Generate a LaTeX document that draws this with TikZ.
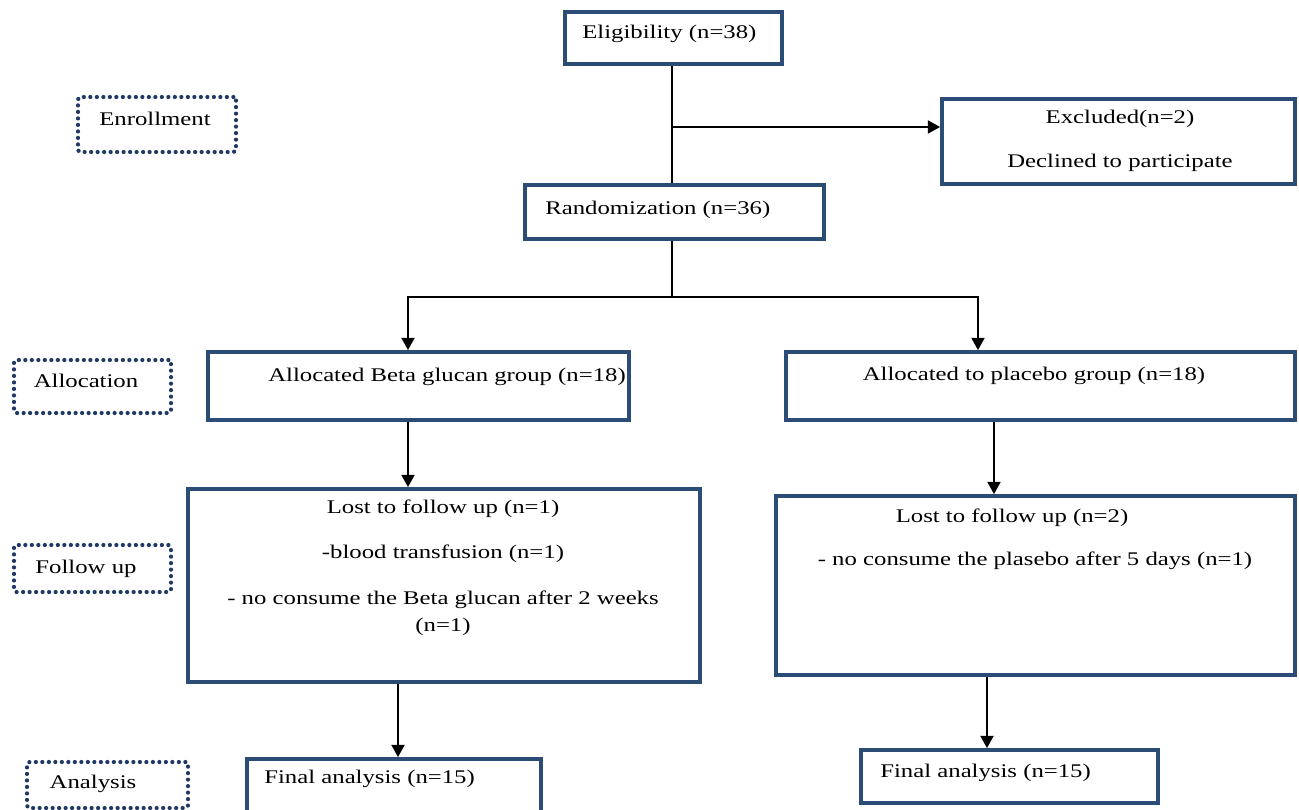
\documentclass[tikz,border=0pt]{standalone}
\usepackage{fontspec}
\setmainfont{Liberation Serif}[FakeStretch=1.28]
\usetikzlibrary{arrows.meta}
\definecolor{boxblue}{HTML}{2B4C74}
\definecolor{dotblue}{HTML}{1F3864}
\tikzset{
  box/.style={draw=boxblue, line width=2.2pt, fill=white, inner sep=0pt},
  stagebox/.style={draw=dotblue, line width=2.4pt, line cap=round, dash pattern=on 0pt off 3.7pt, rounded corners=1.5pt, inner sep=0pt},
  txt/.style={font=\fontsize{11pt}{13pt}\selectfont, inner sep=0pt, text=black},
  conn/.style={draw=black, line width=0.9pt},
  arr/.style={conn, -{Triangle[width=7.5pt,length=7pt]}},
}
\begin{document}
\begin{tikzpicture}[x=0.02cm, y=-0.02cm]
\clip (0,0) rectangle (1299,809);
\fill[white] (0,0) rectangle (1299,809);

% main boxes
\node[box, minimum width=217*0.02cm, minimum height=52*0.02cm] (elig) at (673.5,38) {};
\node[box, minimum width=353*0.02cm, minimum height=85*0.02cm] (excl) at (1118.5,141.5) {};
\node[box, minimum width=299*0.02cm, minimum height=54*0.02cm] (rand) at (674.5,212) {};
\node[box, minimum width=421*0.02cm, minimum height=68*0.02cm] (allocL) at (418.5,386) {};
\node[box, minimum width=509*0.02cm, minimum height=68*0.02cm] (allocR) at (1040.5,386) {};
\node[box, minimum width=512*0.02cm, minimum height=193*0.02cm] (fuL) at (444,585.5) {};
\node[box, minimum width=519*0.02cm, minimum height=179*0.02cm] (fuR) at (1035.5,585.5) {};
\node[box, minimum width=294*0.02cm, minimum height=53*0.02cm] (finL) at (394,785.5) {};
\node[box, minimum width=297*0.02cm, minimum height=53*0.02cm] (finR) at (1009.5,776.5) {};

% stage boxes
\node[stagebox, minimum width=158*0.02cm, minimum height=55*0.02cm] (enroll) at (157,124.5) {};
\node[stagebox, minimum width=157*0.02cm, minimum height=53*0.02cm] (alloc) at (92.5,386.5) {};
\node[stagebox, minimum width=157*0.02cm, minimum height=47*0.02cm] (follow) at (92.5,568.5) {};
\node[stagebox, minimum width=161*0.02cm, minimum height=46*0.02cm] (analysis) at (107.5,785) {};

% texts
\node[txt, anchor=west] (t-elig) at (582,34) {Eligibility (n=38)};
\node[txt] (t-enroll) at (155,119) {Enrollment};
\node[txt] (t-excl1) at (1120,119) {Excluded(n=2)};
\node[txt] (t-excl2) at (1120,163) {Declined to participate};
\node[txt, anchor=west] (t-rand) at (545,210) {Randomization (n=36)};
\node[txt] (t-alloc) at (86,381) {Allocation};
\node[txt] (t-allocL) at (447,377) {Allocated Beta glucan group (n=18)};
\node[txt] (t-allocR) at (1034,376) {Allocated to placebo group (n=18)};
\node[txt] (t-follow) at (86,569) {Follow up};
\node[txt] (t-fuL1) at (443,509) {Lost to follow up (n=1)};
\node[txt] (t-fuL2) at (443,554) {-blood transfusion (n=1)};
\node[txt] (t-fuL3) at (443,600) {- no consume the Beta glucan after 2 weeks};
\node[txt] (t-fuL4) at (443,627) {(n=1)};
\node[txt] (t-fuR1) at (1012,518) {Lost to follow up (n=2)};
\node[txt] (t-fuR2) at (1035,561) {- no consume the plasebo after 5 days (n=1)};
\node[txt] (t-analysis) at (93,784) {Analysis};
\node[txt, anchor=west] (t-finL) at (264,779) {Final analysis (n=15)};
\node[txt, anchor=west] (t-finR) at (880,773) {Final analysis (n=15)};

% connectors
\coordinate (spine) at (672,127);
\coordinate (split) at (672,297);
\coordinate (bl) at (408,297);
\coordinate (br) at (978,297);
\coordinate (xL1) at (408,0);
\coordinate (xR1) at (994,0);
\coordinate (xL2) at (398,0);
\coordinate (xR2) at (987,0);

\draw[conn] (elig.south -| spine) -- (rand.north -| spine);
\draw[arr] (spine) -- (spine -| excl.west);
\draw[conn] (rand.south -| split) -- (split);
\draw[arr] (split) -- (bl) -- (bl |- allocL.north);
\draw[arr] (split) -- (br) -- (br |- allocR.north);
\draw[arr] (allocL.south -| xL1) -- (fuL.north -| xL1);
\draw[arr] (allocR.south -| xR1) -- (fuR.north -| xR1);
\draw[arr] (fuL.south -| xL2) -- (finL.north -| xL2);
\draw[arr] (fuR.south -| xR2) -- (finR.north -| xR2);
\end{tikzpicture}
\end{document}
